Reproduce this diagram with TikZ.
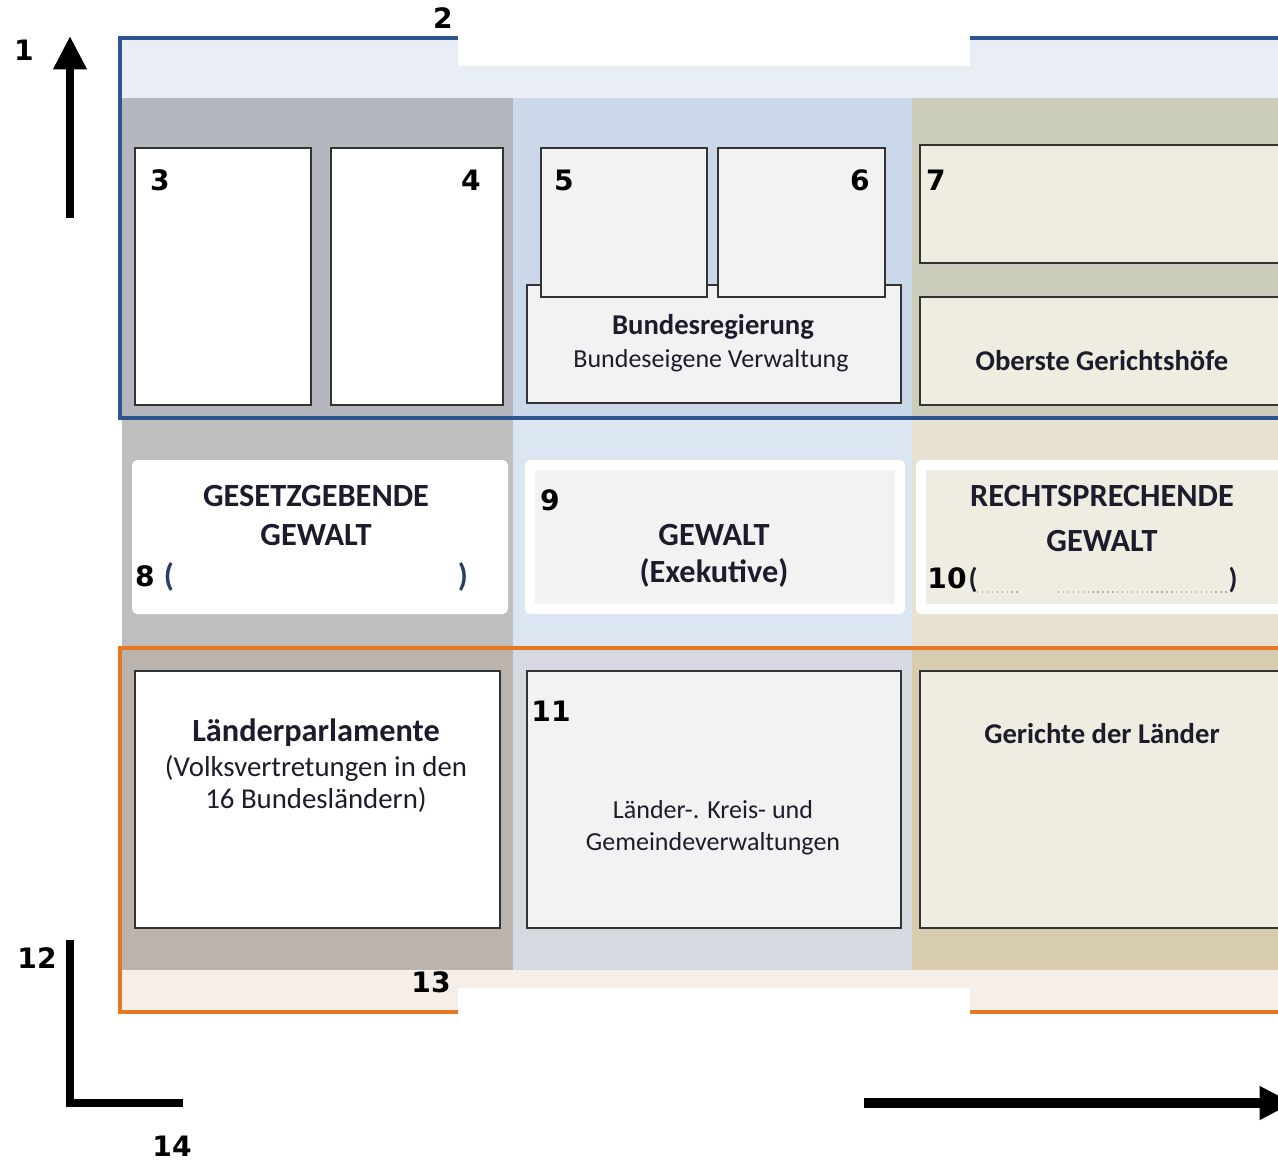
\documentclass[tikz,border=0pt]{standalone}
\usepackage{fontspec}
\setmainfont{Carlito}
\newfontfamily\numfont{DejaVu Sans}
\usetikzlibrary{arrows.meta}

\definecolor{topband}{HTML}{E9EEF6}
\definecolor{botband}{HTML}{F6EEE8}
\definecolor{frameblue}{HTML}{2F5590}
\definecolor{frameorange}{HTML}{E87722}
\definecolor{legtop}{HTML}{B4B7BD}
\definecolor{legmid}{HTML}{BEBEBE}
\definecolor{legbot}{HTML}{BBB3AD}
\definecolor{exetop}{HTML}{CBD8EA}
\definecolor{exemid}{HTML}{DCE6F2}
\definecolor{exebot}{HTML}{D7D9E2}
\definecolor{jurtop}{HTML}{CDCDBB}
\definecolor{jurmid}{HTML}{E6E1D0}
\definecolor{jurbot}{HTML}{D8CCB0}
\definecolor{boxgrey}{HTML}{F2F2F2}
\definecolor{boxbeige}{HTML}{EFECE2}
\definecolor{inkdark}{HTML}{1C1C2C}
\definecolor{parenblue}{HTML}{2A3F66}

\tikzset{
  numlbl/.style={font=\numfont\bfseries\fontsize{16}{16}\selectfont, inner sep=0pt},
  txt/.style={font=\fontsize{14.8}{14.8}\selectfont, text=inkdark, inner sep=0pt},
  txtl/.style={font=\fontsize{16.4}{16.4}\selectfont, text=inkdark, inner sep=0pt},
  txtb/.style={font=\bfseries\fontsize{16.3}{16.3}\selectfont, text=inkdark, inner sep=0pt},
  txtB/.style={font=\bfseries\fontsize{18.4}{18.4}\selectfont, text=inkdark, inner sep=0pt},
  organ/.style={draw=black!80, line width=1pt},
  pane/.style={fill=white, rounded corners=3pt},
  bigarrow/.style={line width=4.6pt, -{Triangle[length=19pt, width=18pt]}},
}

\begin{document}
\begin{tikzpicture}[x=0.02cm, y=-0.02cm]

  \useasboundingbox (0,0) rectangle (1278,1164);
  \clip (0,0) rectangle (1278,1164);

  % bands of Bund and Laender
  \fill[topband] (120,38) rectangle (1278,418);
  \fill[white] (458,0) rectangle (970,66);
  \fill[botband] (120,648) rectangle (1278,1012);
  \fill[white] (458,988) rectangle (970,1030);

  % the three columns
  \fill[legtop] (122,98) rectangle (513,418);
  \fill[legmid] (122,418) rectangle (513,648);
  \fill[legbot] (122,648) rectangle (513,970);
  \fill[exetop] (513,98) rectangle (912,418);
  \fill[exemid] (513,418) rectangle (912,648);
  \fill[exebot] (513,648) rectangle (912,970);
  \fill[jurtop] (912,98) rectangle (1278,418);
  \fill[jurmid] (912,418) rectangle (1278,648);
  \fill[jurbot] (912,648) rectangle (1278,970);

  \draw[frameblue, line width=2pt] (458,38) -- (120,38) -- (120,418) -- (1290,418);
  \draw[frameblue, line width=2pt] (970,38) -- (1290,38);
  \draw[frameorange, line width=2pt] (1290,648) -- (120,648) -- (120,1012) -- (458,1012);
  \draw[frameorange, line width=2pt] (970,1012) -- (1290,1012);

  % Bund
  \draw[organ, fill=white] (135,148) rectangle (311,405);
  \draw[organ, fill=white] (331,148) rectangle (503,405);
  \draw[organ, fill=boxgrey] (527,285) rectangle (901,403);
  \draw[organ, fill=boxgrey] (541,148) rectangle (707,297);
  \draw[organ, fill=boxgrey] (718,148) rectangle (885,297);
  \draw[organ, fill=boxbeige] (920,145) rectangle (1290,263);
  \draw[organ, fill=boxbeige] (920,297) rectangle (1290,405);

  \node[txtb] (breg) at (713,327) {Bundesregierung};
  \node[txt] (bverw) at (711,361) {Bundeseigene Verwaltung};
  \node[txtb] (ogh) at (1102,361) {Oberste Gerichtshöfe};

  % Gewalten
  \fill[pane] (132,460) rectangle (508,614);
  \fill[pane] (525,460) rectangle (905,614);
  \fill[boxgrey] (535,470) rectangle (895,604);
  \fill[pane] (916,460) rectangle (1290,614);
  \fill[boxbeige] (926,470) rectangle (1290,604);

  \node[txtB] (leg1) at (316,496) {GESETZGEBENDE};
  \node[txtB] (leg2) at (316,535) {GEWALT};
  \node[txtB, text=parenblue] (leg3) at (169,577) {(};
  \node[txtB, text=parenblue] (leg4) at (463,577) {)};
  \node[txtB] (exe1) at (714,535) {GEWALT};
  \node[txtB] (exe2) at (714,573) {(Exekutive)};
  \node[txtB] (jur1) at (1102,496) {RECHTSPRECHENDE};
  \node[txtB] (jur2) at (1102,541) {GEWALT};
  \node[txtb] (jur3) at (973,580) {(};
  \node[txtb] (jur4) at (1233,580) {)};
  \draw[black!30, dotted, line width=0.8pt] (977,592) -- (1020,592);
  \draw[black!30, dotted, line width=0.8pt] (1058,592) -- (1228,592);

  % Laender
  \draw[organ, fill=white] (135,671) rectangle (500,928);
  \draw[organ, fill=boxgrey] (527,671) rectangle (901,928);
  \draw[organ, fill=boxbeige] (920,671) rectangle (1290,928);

  \node[txtB] (lp1) at (316,733) {Länderparlamente};
  \node[txtl] (lp2) at (316,768) {(Volksvertretungen in den};
  \node[txtl] (lp3) at (316,800) {16 Bundesländern)};
  \node[txt] (lv1) at (713,810) {Länder-. Kreis- und};
  \node[txt] (lv2) at (713,844) {Gemeindeverwaltungen};
  \node[txtb] (gl) at (1102,734) {Gerichte der Länder};

  % numbers
  \node[numlbl] (n1) at (24,50) {1};
  \node[numlbl] (n2) at (443,18) {2};
  \node[numlbl] (n3) at (160,180) {3};
  \node[numlbl] (n4) at (471,180) {4};
  \node[numlbl] (n5) at (564,180) {5};
  \node[numlbl] (n6) at (860,180) {6};
  \node[numlbl] (n7) at (936,180) {7};
  \node[numlbl] (n8) at (145,576) {8};
  \node[numlbl] (n9) at (550,500) {9};
  \node[numlbl] (n10) at (947,578) {10};
  \node[numlbl] (n11) at (551,711) {11};
  \node[numlbl] (n12) at (37,958) {12};
  \node[numlbl] (n13) at (431,982) {13};
  \node[numlbl] (n14) at (172,1146) {14};

  % arrows
  \coordinate (upS) at (70,218);
  \coordinate (upE) at (70,36);
  \coordinate (elS) at (70,940);
  \coordinate (elE) at (183,1103);
  \coordinate (riS) at (864,1103);
  \coordinate (riE) at (1293,1103);
  \draw[bigarrow] (upS) -- (upE);
  \draw[line width=4.6pt] (elS) |- (elE);
  \draw[bigarrow, line width=6pt] (riS) -- (riE);

\end{tikzpicture}
\end{document}
